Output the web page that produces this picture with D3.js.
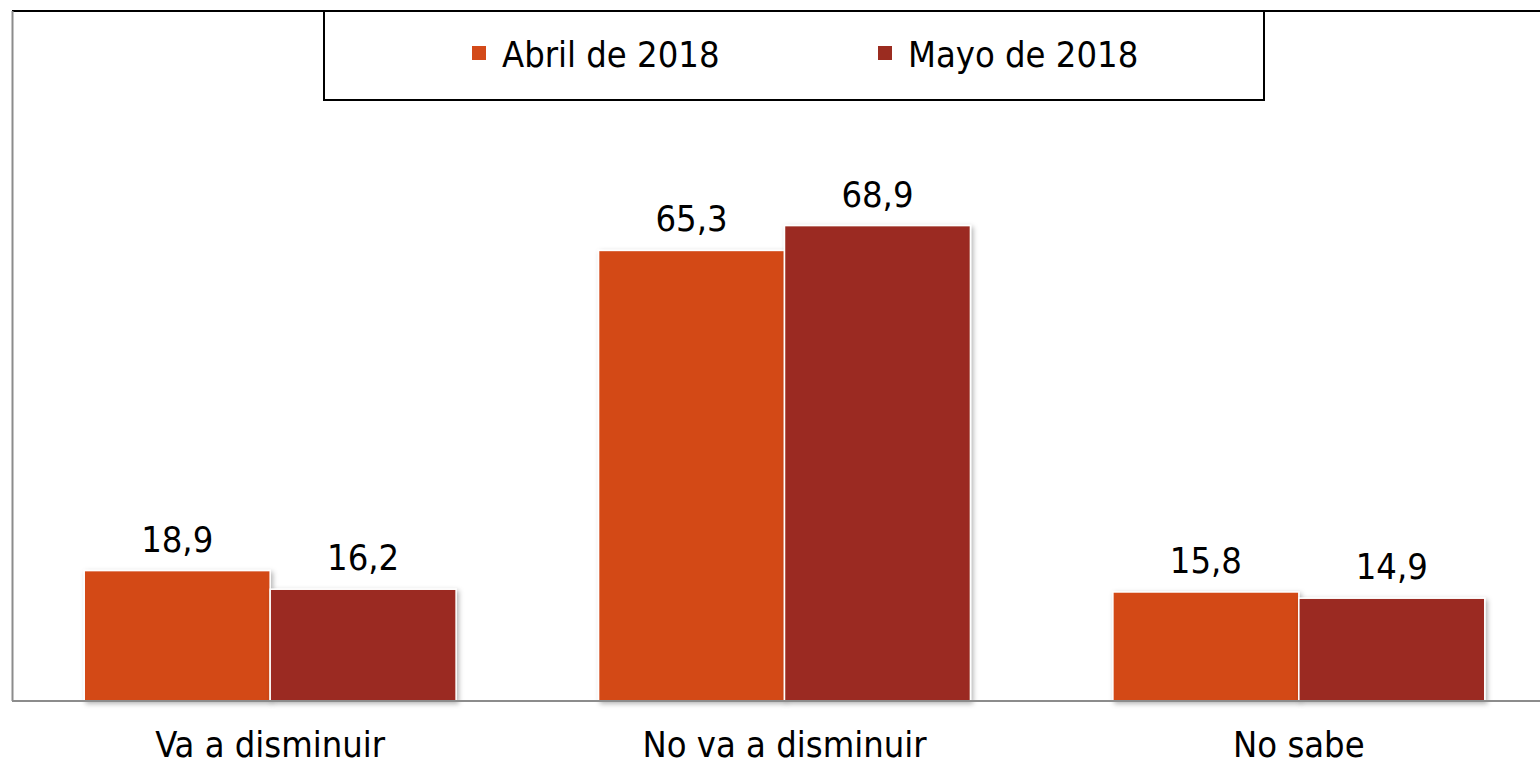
<!DOCTYPE html>
<html>
<head>
<meta charset="utf-8">
<script src="https://cdn.jsdelivr.net/npm/d3@7"></script>
<style>
  body { margin: 0; background: #fff; }
  text { font-family: "DejaVu Sans", sans-serif; font-stretch: condensed; fill: #000; }
</style>
</head>
<body>
<svg id="chart" width="1540" height="764"></svg>
<script>
// data
const categories = ['Va a disminuir', 'No va a disminuir', 'No sabe'];
const seriesNames = ['Abril de 2018', 'Mayo de 2018'];
const abril = [18.9, 65.3, 15.8];
const mayo = [16.2, 68.9, 14.9];
const seriesValues = [abril, mayo];
const colors = ['#D34A19', '#9B2C20'];

const svg = d3.select('#chart');
const width = 1540, height = 764;
const plotLeft = 13, plotRight = 1556, plotTop = 11, plotBottom = 701;

const x0 = d3.scaleBand()
    .domain(categories)
    .range([plotLeft, plotRight])
    .paddingInner(0.277)
    .paddingOuter(0.1385);

const x1 = d3.scaleBand()
    .domain(seriesNames)
    .range([0, x0.bandwidth()]);

const y = d3.scaleLinear()
    .domain([0, 100])
    .range([plotBottom, plotTop]);

// shadow for bars
const defs = svg.append('defs');
const f = defs.append('filter').attr('id', 'shadow')
    .attr('x', '-5%').attr('y', '-5%').attr('width', '115%').attr('height', '115%');
f.append('feDropShadow')
    .attr('dx', 2).attr('dy', 2).attr('stdDeviation', 2.5)
    .attr('flood-color', '#000').attr('flood-opacity', 0.3);

// plot frame
svg.append('line')
    .attr('x1', 12).attr('x2', width).attr('y1', plotTop).attr('y2', plotTop)
    .attr('stroke', '#000').attr('stroke-width', 2);
svg.append('line')
    .attr('x1', 12.5).attr('x2', 12.5).attr('y1', plotTop).attr('y2', plotBottom)
    .attr('stroke', '#8c8c8c').attr('stroke-width', 2);

// bars
const groups = svg.append('g').selectAll('g')
    .data(categories)
    .join('g')
    .attr('transform', d => `translate(${x0(d)},0)`);

const barData = (d, i) => seriesNames.map((s, j) => ({ s, j, v: seriesValues[j][i] }));

groups.selectAll('rect')
    .data(barData)
    .join('rect')
    .attr('x', d => x1(d.s))
    .attr('y', d => y(d.v))
    .attr('width', x1.bandwidth())
    .attr('height', d => y(0) - y(d.v))
    .attr('fill', d => colors[d.j])
    .attr('stroke', '#fff')
    .attr('stroke-width', 1.5)
    .attr('filter', 'url(#shadow)');

groups.selectAll('text.val')
    .data(barData)
    .join('text')
    .attr('class', 'val')
    .attr('x', d => x1(d.s) + x1.bandwidth() / 2)
    .attr('y', d => y(d.v) - 19)
    .attr('text-anchor', 'middle')
    .style('font-size', '36px')
    .text(d => d3.format('.1f')(d.v).replace('.', ','));

// x axis
const xAxis = svg.append('g')
    .attr('transform', `translate(0,${plotBottom})`)
    .call(d3.axisBottom(x0).tickSize(0).tickPadding(0));
xAxis.select('.domain').remove();
svg.append('line')
    .attr('x1', 12).attr('x2', width).attr('y1', plotBottom).attr('y2', plotBottom)
    .attr('stroke', '#8c8c8c').attr('stroke-width', 2);
xAxis.selectAll('text')
    .attr('dy', null)
    .attr('y', 56)
    .style('font-size', '36px')
    .style('font-family', '"DejaVu Sans", sans-serif')
    .attr('fill', '#000');

// legend
const legend = svg.append('g');
legend.append('rect')
    .attr('x', 324).attr('y', 11).attr('width', 940).attr('height', 89)
    .attr('fill', '#fff').attr('stroke', '#000').attr('stroke-width', 2);
const legendX = [472, 878];
const items = legend.selectAll('g.item')
    .data(seriesNames)
    .join('g')
    .attr('class', 'item')
    .attr('transform', (d, i) => `translate(${legendX[i]},0)`);
items.append('rect')
    .attr('x', 0).attr('y', 46).attr('width', 14).attr('height', 14)
    .attr('fill', (d, i) => colors[i]);
items.append('text')
    .attr('x', 30).attr('y', 67)
    .style('font-size', '36px')
    .text(d => d);
</script>
</body>
</html>
